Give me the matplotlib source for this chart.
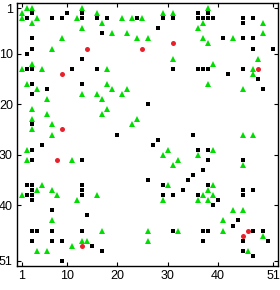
import matplotlib
matplotlib.use("Agg")
import matplotlib.pyplot as plt

# symmetric 51x51 pattern: only the upper triangle is listed (row < col),
# the lower half is the same points mirrored
green_rows = [1, 1, 1, 1, 2, 2, 2, 3, 3, 3, 3, 3, 4, 4, 4, 5, 5, 6, 6, 6,
              7, 7, 7, 7, 7, 8, 11, 11, 12, 13, 13, 14, 16, 16, 17, 17, 17,
              18, 23, 26, 26, 29, 29, 30, 31, 32, 36, 37, 38, 41, 41, 46]
green_cols = [2, 3, 13, 38, 16, 29, 31, 4, 12, 21, 23, 25, 17, 37, 49, 13, 36,
              19, 22, 49, 9, 24, 26, 37, 43, 38, 31, 48, 39, 18, 47, 47, 18,
              38, 19, 22, 45, 21, 24, 45, 47, 30, 39, 36, 32, 45, 39, 38, 39,
              43, 45, 49]

black_rows = [2, 2, 2, 2, 2, 3, 3, 3, 3, 3, 3, 3, 3, 3, 3, 3, 3, 3, 3, 4, 5,
              6, 7, 7, 7, 9, 9, 11, 13, 13, 13, 13, 13, 13, 14, 15, 17, 20,
              26, 27, 29, 29, 31, 31, 33, 34, 36, 37, 37, 38, 39, 43, 45, 45,
              47]
black_cols = [3, 10, 13, 36, 38, 7, 9, 13, 16, 18, 24, 29, 31, 36, 37, 38, 39,
              45, 47, 45, 28, 17, 41, 45, 47, 47, 51, 13, 16, 31, 36, 37, 38,
              45, 42, 48, 49, 26, 35, 28, 36, 38, 38, 45, 37, 35, 38, 45, 47,
              45, 40, 44, 47, 49, 50]

red_rows = [8, 9, 9, 13, 45]
red_cols = [31, 14, 25, 48, 46]

ticks = [1, 10, 20, 30, 40, 51]

fig = plt.figure(figsize=(2.8, 2.9), dpi=100)
ax = fig.add_axes([17 / 280, 24 / 290, 261 / 280, 263 / 290])

ax.plot(black_cols + black_rows, black_rows + black_cols, 's', color='black',
        markersize=2.6, markeredgewidth=0, linestyle='none')
ax.plot(green_cols + green_rows, green_rows + green_cols, '^', color='#00dd00',
        markersize=4.2, markeredgewidth=0, linestyle='none')
ax.plot(red_cols + red_rows, red_rows + red_cols, 'o', color='#e8202a',
        markersize=3.6, markeredgewidth=0, linestyle='none')

ax.set_xlim(0, 52)
ax.set_ylim(52, 0)
ax.set_xticks(ticks)
ax.set_yticks(ticks)
ax.set_xticklabels([str(t) for t in ticks])
ax.set_yticklabels([str(t) for t in ticks])
ax.tick_params(direction='in', length=3, width=0.8, top=True, right=True,
               labelsize=9, pad=3)
for lab in ax.get_xticklabels() + ax.get_yticklabels():
    lab.set_family('Liberation Sans')
for s in ax.spines.values():
    s.set_linewidth(1.0)

fig.savefig('out.png', dpi=100)
